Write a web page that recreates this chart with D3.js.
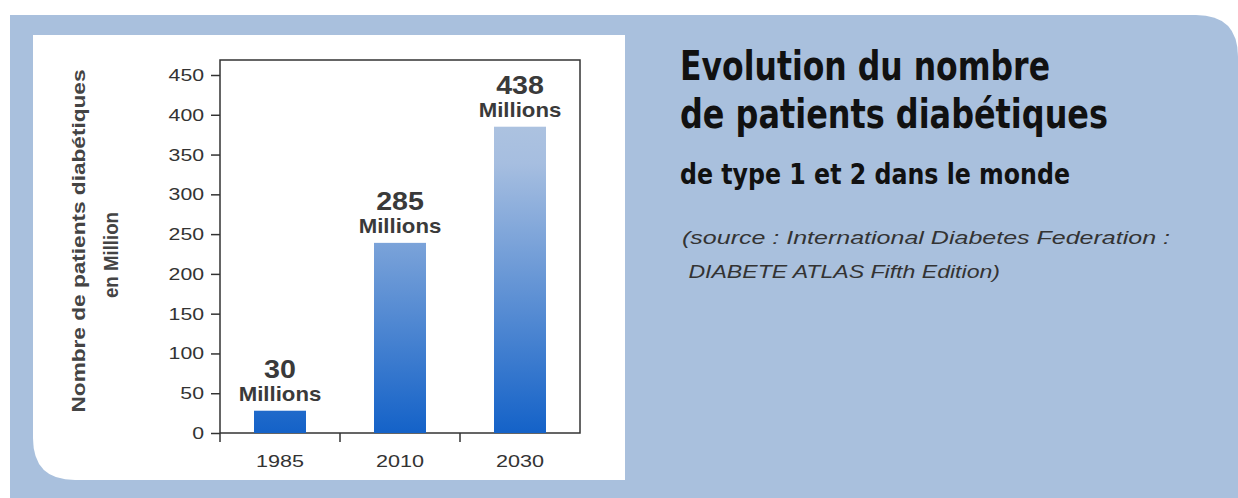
<!DOCTYPE html>
<html>
<head>
<meta charset="utf-8">
<title>Evolution du nombre de patients diabétiques</title>
<script src="https://d3js.org/d3.v7.min.js"></script>
<style>
  body { margin: 0; background: #fff; }
  svg { display: block; }
</style>
</head>
<body>
<div id="chart"></div>
<script>
// data
var years = ["1985", "2010", "2030"];
var barValues = [28, 239, 385];      // heights as drawn
var labelValues = [30, 285, 438];    // numbers printed above the bars
var yTicks = [0, 50, 100, 150, 200, 250, 300, 350, 400, 450];
var yTitle = ["Nombre de patients diabétiques", "en Million"];
var titleLines = ["Evolution du nombre", "de patients diabétiques"];
var subTitle = "de type 1 et 2 dans le monde";
var sourceLines = ["(source : International Diabetes Federation :", " DIABETE ATLAS Fifth Edition)"];

var W = 1238, H = 498;

var svg = d3.select("#chart").append("svg")
  .attr("width", W)
  .attr("height", H);

// blue panel with rounded top-right corner
svg.append("path")
  .attr("d", "M10,15 H1196 Q1238,15 1238,57 V498 H10 Z")
  .attr("fill", "#a9c0dd");

// white card, rounded bottom-left corner
svg.append("path")
  .attr("d", "M33,35 H625 V480 H75 Q33,480 33,438 Z")
  .attr("fill", "#ffffff");

// gradient for the bars
var grad = svg.append("defs").append("linearGradient")
  .attr("id", "barGrad")
  .attr("gradientUnits", "userSpaceOnUse")
  .attr("x1", 0).attr("x2", 0);
var stops = [[0, "#acc2e0"], [0.12, "#a6bee0"], [1, "#1462c8"]];

// scales
var x = d3.scalePoint().domain(years).range([220, 580]).padding(0.5);
var y = d3.scaleLinear().domain([0, 450]).range([433, 75]);

grad.attr("y1", y(385)).attr("y2", y(0));
grad.selectAll("stop").data(stops).enter().append("stop")
  .attr("offset", function(d) { return d[0]; })
  .attr("stop-color", function(d) { return d[1]; });

// plot frame
svg.append("rect")
  .attr("x", 220).attr("y", 60)
  .attr("width", 360).attr("height", 373)
  .attr("fill", "none")
  .attr("stroke", "#333")
  .attr("stroke-width", 1.5);

// bars
var bw = 52;
svg.selectAll(".bar")
  .data(barValues)
  .enter().append("rect")
    .attr("class", "bar")
    .attr("x", function(d, i) { return x(years[i]) - bw / 2; })
    .attr("y", function(d) { return y(d); })
    .attr("width", bw)
    .attr("height", function(d) { return y(0) - y(d); })
    .attr("fill", "url(#barGrad)");

// y axis
var yAxis = svg.append("g")
  .attr("transform", "translate(220,0)")
  .call(d3.axisLeft(y).tickValues(yTicks).tickSize(9).tickPadding(0));
yAxis.select(".domain").remove();
yAxis.selectAll(".tick line").attr("stroke", "#333").attr("stroke-width", 1.5);
yAxis.selectAll(".tick text")
  .attr("x", -16 / 1.25)
  .attr("transform", "scale(1.25,1)")
  .attr("fill", "#333")
  .style("font-family", "'Liberation Sans', Arial, sans-serif")
  .style("font-size", "17px");

// axis line going a little below the x axis
svg.append("line")
  .attr("x1", 220).attr("x2", 220)
  .attr("y1", 433).attr("y2", 442)
  .attr("stroke", "#333").attr("stroke-width", 1.5);

// x ticks between the bars
var step = x.step();
svg.selectAll(".xtick")
  .data(years.slice(1))
  .enter().append("line")
    .attr("x1", function(d) { return x(d) - step / 2; })
    .attr("x2", function(d) { return x(d) - step / 2; })
    .attr("y1", 433).attr("y2", 442)
    .attr("stroke", "#333").attr("stroke-width", 1.5);

// year labels
svg.selectAll(".year")
  .data(years)
  .enter().append("text")
    .attr("transform", function(d) { return "translate(" + x(d) + ",467) scale(1.27,1)"; })
    .attr("text-anchor", "middle")
    .attr("fill", "#333")
    .style("font-family", "'Liberation Sans', Arial, sans-serif")
    .style("font-size", "17px")
    .text(function(d) { return d; });

// value labels above bars
var lab = svg.selectAll(".lab")
  .data(barValues)
  .enter().append("g")
    .attr("transform", function(d, i) { return "translate(" + x(years[i]) + "," + (y(d) - 10) + ")"; })
    .attr("text-anchor", "middle")
    .attr("fill", "#3a3a3a")
    .style("font-family", "'Liberation Sans', Arial, sans-serif")
    .style("font-weight", "bold");

lab.append("text")
  .attr("y", -23)
  .attr("transform", "scale(1.1,1)")
  .style("font-size", "26px")
  .text(function(d, i) { return labelValues[i]; });

lab.append("text")
  .attr("transform", "scale(1.11,1)")
  .style("font-size", "20px")
  .text("Millions");

// y axis title
var yt = svg.append("g")
  .attr("fill", "#444")
  .style("font-family", "'Liberation Sans', Arial, sans-serif")
  .style("font-weight", "bold")
  .attr("text-anchor", "middle");
yt.append("text")
  .attr("transform", "translate(85,241) rotate(-90)")
  .style("font-size", "19px")
  .attr("textLength", 343).attr("lengthAdjust", "spacingAndGlyphs")
  .text(yTitle[0]);
yt.append("text")
  .attr("transform", "translate(118,255) rotate(-90)")
  .style("font-size", "21px")
  .attr("textLength", 86).attr("lengthAdjust", "spacingAndGlyphs")
  .text(yTitle[1]);

// title block
var tb = svg.append("g")
  .attr("fill", "#111")
  .style("font-family", "'Liberation Sans Narrow', 'DejaVu Sans Condensed', 'Liberation Sans', sans-serif")
  .style("font-weight", "bold");
tb.append("text")
  .attr("x", 680).attr("y", 80)
  .style("font-size", "40px")
  .attr("textLength", 370).attr("lengthAdjust", "spacingAndGlyphs")
  .text(titleLines[0]);
tb.append("text")
  .attr("x", 680).attr("y", 128)
  .style("font-size", "40px")
  .attr("textLength", 428).attr("lengthAdjust", "spacingAndGlyphs")
  .text(titleLines[1]);
tb.append("text")
  .attr("x", 680).attr("y", 184)
  .style("font-size", "29px")
  .attr("textLength", 390).attr("lengthAdjust", "spacingAndGlyphs")
  .text(subTitle);

var src = svg.append("g")
  .attr("fill", "#333")
  .style("font-family", "'Liberation Sans', Arial, sans-serif")
  .style("font-style", "italic")
  .style("font-size", "18px");
src.append("text")
  .attr("x", 682).attr("y", 244)
  .attr("textLength", 488).attr("lengthAdjust", "spacingAndGlyphs")
  .text(sourceLines[0]);
src.append("text")
  .attr("x", 682).attr("y", 278)
  .attr("xml:space", "preserve")
  .style("white-space", "pre")
  .attr("textLength", 318).attr("lengthAdjust", "spacingAndGlyphs")
  .text(sourceLines[1]);
</script>
</body>
</html>
